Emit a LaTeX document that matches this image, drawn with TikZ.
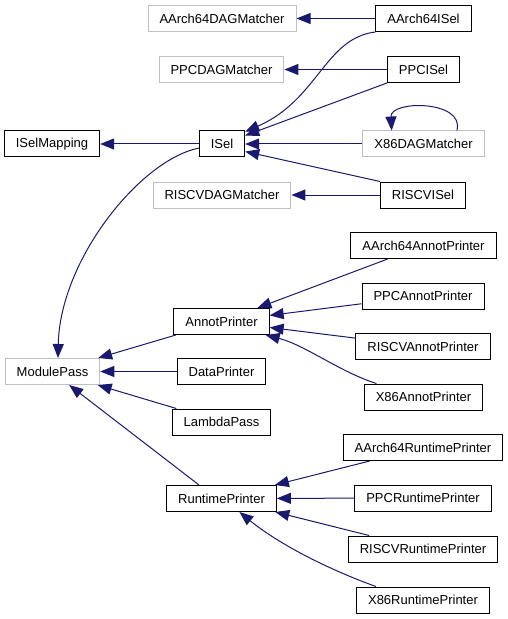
\documentclass[tikz,border=0pt]{standalone}
\usepackage{fontspec}
\setmainfont{Liberation Sans}
\usepackage{tikz}
\usetikzlibrary{arrows.meta, positioning}
\definecolor{myblue}{RGB}{25,25,112}
\definecolor{mygray}{RGB}{191,191,191}
\tikzset{
  block/.style={rectangle, draw=black, fill=white, line width=1bp, minimum height=26bp, inner xsep=11.5bp, inner ysep=2bp, font=\fontsize{13bp}{15bp}\selectfont},
  grayblock/.style={block, draw=mygray},
  arrow/.style={-{Triangle[length=14bp, width=11bp]}, line width=1bp, color=myblue}
}
\begin{document}
\begin{tikzpicture}[x=1bp, y=-1bp]
  \useasboundingbox (0,0) rectangle (508,619);

  % ISel side
  \node[grayblock] (aarch64dag) at (222,18.5) {AArch64DAGMatcher};
  \node[block] (aarch64isel) at (423.5,18.5) {AArch64ISel};
  \node[grayblock] (ppcdag) at (221.5,69.5) {PPCDAGMatcher};
  \node[block] (ppcisel) at (423.5,69.5) {PPCISel};
  \node[block] (iselmapping) at (52,144) {ISelMapping};
  \node[block] (isel) at (222,144) {ISel};
  \node[grayblock] (x86dag) at (423.5,144) {X86DAGMatcher};
  \node[grayblock] (riscvdag) at (222,195) {RISCVDAGMatcher};
  \node[block] (riscvisel) at (423,195) {RISCVISel};

  % Annot printers
  \node[block] (aarch64annot) at (423.5,245.5) {AArch64AnnotPrinter};
  \node[block] (ppcannot) at (423,296) {PPCAnnotPrinter};
  \node[block] (annotprinter) at (221.5,321.5) {AnnotPrinter};
  \node[block] (riscvannot) at (423,346.5) {RISCVAnnotPrinter};
  \node[block] (x86annot) at (423.5,397) {X86AnnotPrinter};

  % Module passes
  \node[grayblock] (modulepass) at (52.5,371.5) {ModulePass};
  \node[block] (dataprinter) at (221.5,371.5) {DataPrinter};
  \node[block] (lambdapass) at (221.5,422) {LambdaPass};

  % Runtime printers
  \node[block] (aarch64runtime) at (423,447.5) {AArch64RuntimePrinter};
  \node[block] (runtimeprinter) at (221.5,498.5) {RuntimePrinter};
  \node[block] (ppcruntime) at (423,498) {PPCRuntimePrinter};
  \node[block] (riscvruntime) at (423,549) {RISCVRuntimePrinter};
  \node[block] (x86runtime) at (423,600) {X86RuntimePrinter};

  % Inheritance edges
  \draw[arrow] (aarch64isel) -- (aarch64dag);
  \draw[arrow] (ppcisel) -- (ppcdag);
  \draw[arrow] (riscvisel) -- (riscvdag);
  \draw[arrow] (isel) -- (iselmapping);
  \draw[arrow] (x86dag) -- (isel);
  \draw[arrow] (aarch64isel.south west) .. controls (325,38) and (318,100) .. (isel.28);
  \draw[arrow] (ppcisel.south west) -- (isel.20);
  \draw[arrow] (riscvisel.north west) -- (isel.-18);
  \draw[arrow] (x86dag.22) .. controls (465,100) and (390,100) .. (x86dag.157);
  \draw[arrow] (isel.190) .. controls (140,160) and (60,260) .. (modulepass.68);

  \draw[arrow] (aarch64annot) -- (annotprinter);
  \draw[arrow] (ppcannot) -- (annotprinter);
  \draw[arrow] (riscvannot) -- (annotprinter);
  \draw[arrow] (x86annot.164) .. controls (340,372) and (305,345) .. (annotprinter.-17);

  \draw[arrow] (annotprinter) -- (modulepass);
  \draw[arrow] (dataprinter) -- (modulepass);
  \draw[arrow] (lambdapass) -- (modulepass);
  \draw[arrow] (runtimeprinter.149) -- (modulepass.-39);

  \draw[arrow] (aarch64runtime) -- (runtimeprinter);
  \draw[arrow] (ppcruntime) -- (runtimeprinter);
  \draw[arrow] (riscvruntime) -- (runtimeprinter);
  \draw[arrow] (x86runtime.164) .. controls (330,570) and (280,545) .. (runtimeprinter.-37);
\end{tikzpicture}
\end{document}
